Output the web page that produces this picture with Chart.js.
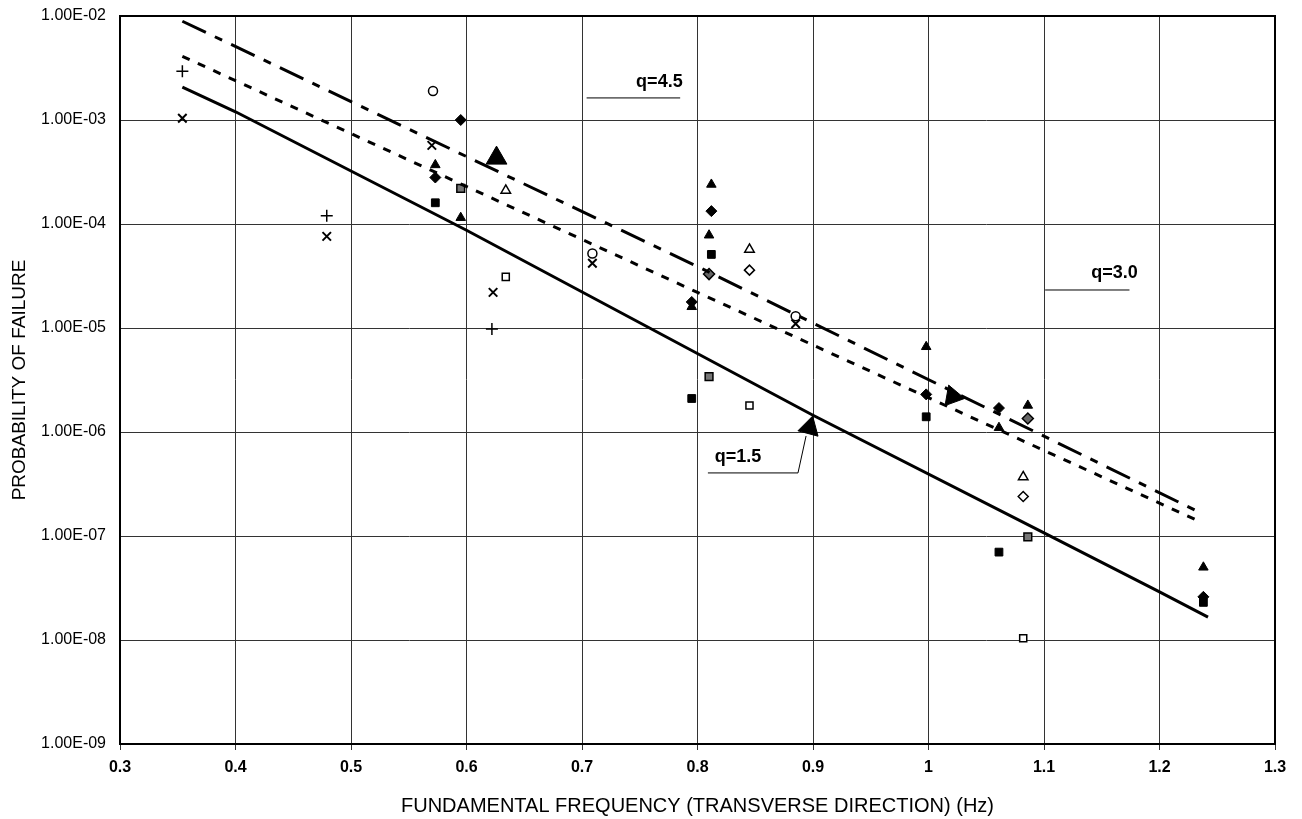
<!DOCTYPE html>
<html>
<head>
<meta charset="utf-8">
<script src="https://cdn.jsdelivr.net/npm/chart.js@4/dist/chart.umd.min.js"></script>
<style>
  body { margin: 0; background: #fff; }
  canvas { display: block; }
</style>
</head>
<body>
<canvas id="failureChart" width="1302" height="819"></canvas>
<script>
// axis ticks
const xTicks = [0.3, 0.4, 0.5, 0.6, 0.7, 0.8, 0.9, 1.0, 1.1, 1.2, 1.3];
const yTicks = [1e-9, 1e-8, 1e-7, 1e-6, 1e-5, 1e-4, 1e-3, 1e-2];

// fitted lines (frequency, probability)
const lineQ15 = [[0.354, 2.07e-3], [0.4, 1.2e-3], [0.6, 8.7e-5], [0.9, 1.45e-6], [1.1, 1.07e-7], [1.2, 2.9e-8], [1.242, 1.66e-8]];
const lineQ30 = [[0.354, 4.1e-3], [0.8, 2.2e-5], [1.236, 1.36e-7]];
const lineQ45 = [[0.354, 8.9e-3], [0.8, 3.9e-5], [1.236, 1.66e-7]];

// building results, one array per marker
const ptsPlus = [[0.354, 2.95e-3], [0.479, 1.2e-4], [0.622, 9.8e-6]];
const ptsCross = [[0.354, 1.04e-3], [0.479, 7.6e-5], [0.570, 5.7e-4], [0.623, 2.2e-5], [0.709, 4.2e-5], [0.885, 1.1e-5]];
const ptsCircle = [[0.571, 1.9e-3], [0.709, 5.2e-5], [0.885, 1.3e-5]];
const ptsDiamond = [[0.595, 1.0e-3], [0.573, 2.8e-4], [0.812, 1.33e-4], [0.795, 1.78e-5], [0.998, 2.3e-6], [1.061, 1.7e-6], [1.238, 2.6e-8]];
const ptsShadedDiamond = [[0.810, 3.3e-5], [1.086, 1.35e-6]];
const ptsTriangle = [[0.573, 3.7e-4], [0.595, 1.15e-4], [0.812, 2.4e-4], [0.810, 7.8e-5], [0.795, 1.6e-5], [0.998, 6.6e-6], [1.061, 1.1e-6], [1.086, 1.8e-6], [1.238, 5.0e-8]];
const ptsSquare = [[0.573, 1.6e-4], [0.812, 5.1e-5], [0.795, 2.1e-6], [0.998, 1.4e-6], [1.061, 7.0e-8], [1.238, 2.3e-8]];
const ptsShadedSquare = [[0.595, 2.2e-4], [0.810, 3.4e-6], [1.086, 9.8e-8]];
const ptsOpenSquare = [[0.634, 3.1e-5], [0.845, 1.8e-6], [1.082, 1.04e-8]];
const ptsOpenTriangle = [[0.634, 2.1e-4], [0.845, 5.7e-5], [1.082, 3.7e-7]];
const ptsOpenDiamond = [[0.845, 3.6e-5], [1.082, 2.4e-7]];

// callout arrowheads and labels
const arrowHeads = [[0.626, 4.3e-4], [1.021, 2.2e-6], [0.897, 1.1e-6]];
const arrowAngles = [0, 100, 15];
const labelTexts = ['q=4.5', 'q=3.0', 'q=1.5'];
const labelAt = [[0.767, 2.3e-3], [1.161, 3.38e-5], [0.835, 5.75e-7]];
const labelRule = [[[0.704, 1.63e-3], [0.785, 1.63e-3]],
                   [[1.101, 2.32e-5], [1.174, 2.32e-5]],
                   [[0.809, 4.04e-7], [0.887, 4.04e-7], [0.894, 9.16e-7]]];

const toXY = arr => arr.map(p => ({x: p[0], y: p[1]}));

function sci(v) {
    const parts = v.toExponential(2).split('e');
    const e = parseInt(parts[1], 10);
    const sign = e < 0 ? '-' : '+';
    return parts[0] + 'E' + sign + String(Math.abs(e)).padStart(2, '0');
}

function markers(data, style, fill, radius, border) {
    return {
        type: 'scatter',
        data: toXY(data),
        pointStyle: style,
        pointRadius: radius,
        pointHoverRadius: radius,
        backgroundColor: fill,
        borderColor: '#000',
        borderWidth: border
    };
}

function fitLine(data, dash, width) {
    return {
        type: 'line',
        data: toXY(data),
        borderColor: '#000',
        borderWidth: width,
        borderDash: dash,
        pointRadius: 0,
        fill: false,
        tension: 0
    };
}

const calloutPlugin = {
    id: 'callouts',
    afterDatasetsDraw(chart) {
        const ctx = chart.ctx;
        const xs = chart.scales.x, ys = chart.scales.y;
        ctx.save();
        ctx.strokeStyle = '#000';
        ctx.lineWidth = 1;
        labelRule.forEach(rule => {
            ctx.beginPath();
            rule.forEach((p, i) => {
                const px = xs.getPixelForValue(p[0]), py = ys.getPixelForValue(p[1]);
                if (i === 0) ctx.moveTo(px, py); else ctx.lineTo(px, py);
            });
            ctx.stroke();
        });
        ctx.fillStyle = '#000';
        ctx.font = 'bold 18px "Liberation Sans", Arial, sans-serif';
        ctx.textAlign = 'center';
        ctx.textBaseline = 'middle';
        labelTexts.forEach((t, i) => {
            ctx.fillText(t, xs.getPixelForValue(labelAt[i][0]), ys.getPixelForValue(labelAt[i][1]));
        });
        ctx.restore();
    },
    afterDraw(chart) {
        const a = chart.chartArea, ctx = chart.ctx;
        ctx.save();
        ctx.strokeStyle = '#000';
        ctx.lineWidth = 2;
        ctx.strokeRect(a.left, a.top, a.right - a.left, a.bottom - a.top);
        ctx.restore();
    }
};

const ctx = document.getElementById('failureChart').getContext('2d');

new Chart(ctx, {
    data: {
        datasets: [
            fitLine(lineQ15, [], 3),
            fitLine(lineQ30, [8, 9], 3),
            fitLine(lineQ45, [26, 10, 8, 10], 3),
            markers(ptsPlus, 'cross', '#000', 6, 1.5),
            markers(ptsCross, 'crossRot', '#000', 6, 2),
            markers(ptsCircle, 'circle', '#fff', 4.5, 1.5),
            markers(ptsDiamond, 'rectRot', '#000', 5.5, 1),
            markers(ptsShadedDiamond, 'rectRot', '#666', 5.5, 1.5),
            markers(ptsTriangle, 'triangle', '#000', 5.5, 1),
            markers(ptsSquare, 'rect', '#000', 5.5, 1),
            markers(ptsShadedSquare, 'rect', '#777', 5.5, 1.5),
            markers(ptsOpenSquare, 'rect', '#fff', 5, 1.5),
            markers(ptsOpenTriangle, 'triangle', '#fff', 5.5, 1.5),
            markers(ptsOpenDiamond, 'rectRot', '#fff', 5, 1.5),
            {
                type: 'scatter',
                data: toXY(arrowHeads),
                pointStyle: 'triangle',
                pointRadius: 12,
                pointRotation: arrowAngles,
                backgroundColor: '#000',
                borderColor: '#000',
                borderWidth: 1
            }
        ]
    },
    options: {
        responsive: false,
        animation: false,
        layout: {
            padding: { left: 0, right: 27, top: 16, bottom: 0 }
        },
        scales: {
            x: {
                type: 'linear',
                min: 0.3,
                max: 1.3,
                afterBuildTicks: s => { s.ticks = xTicks.map(v => ({value: v})); },
                afterFit: s => { s.height = 75; s.paddingLeft = 0; s.paddingRight = 0; },
                ticks: {
                    color: '#000',
                    padding: 8,
                    font: { family: '"Liberation Sans", Arial, sans-serif', size: 16, weight: 'bold' },
                    callback: v => String(+v.toFixed(1))
                },
                grid: { color: '#333', lineWidth: 1, tickLength: 6 },
                border: { color: '#000', width: 2 },
                title: {
                    display: true,
                    text: 'FUNDAMENTAL FREQUENCY (TRANSVERSE DIRECTION) (Hz)',
                    color: '#000',
                    font: { family: '"Liberation Sans", Arial, sans-serif', size: 20 },
                    padding: { top: 0, bottom: 1 }
                }
            },
            y: {
                type: 'logarithmic',
                min: 1e-9,
                max: 1e-2,
                afterBuildTicks: s => { s.ticks = yTicks.map(v => ({value: v})); },
                afterFit: s => { s.width = 120; s.paddingTop = 0; s.paddingBottom = 0; },
                ticks: {
                    color: '#000',
                    padding: 14,
                    font: { family: '"Liberation Sans", Arial, sans-serif', size: 16 },
                    callback: v => sci(v)
                },
                grid: { color: '#333', lineWidth: 1, drawTicks: false },
                border: { color: '#000', width: 2 },
                title: {
                    display: true,
                    text: 'PROBABILITY OF FAILURE',
                    color: '#000',
                    font: { family: '"Liberation Sans", Arial, sans-serif', size: 19 },
                    padding: { top: 8, bottom: 0 }
                }
            }
        },
        plugins: {
            legend: { display: false },
            tooltip: { enabled: false }
        }
    },
    plugins: [calloutPlugin]
});
</script>
</body>
</html>
